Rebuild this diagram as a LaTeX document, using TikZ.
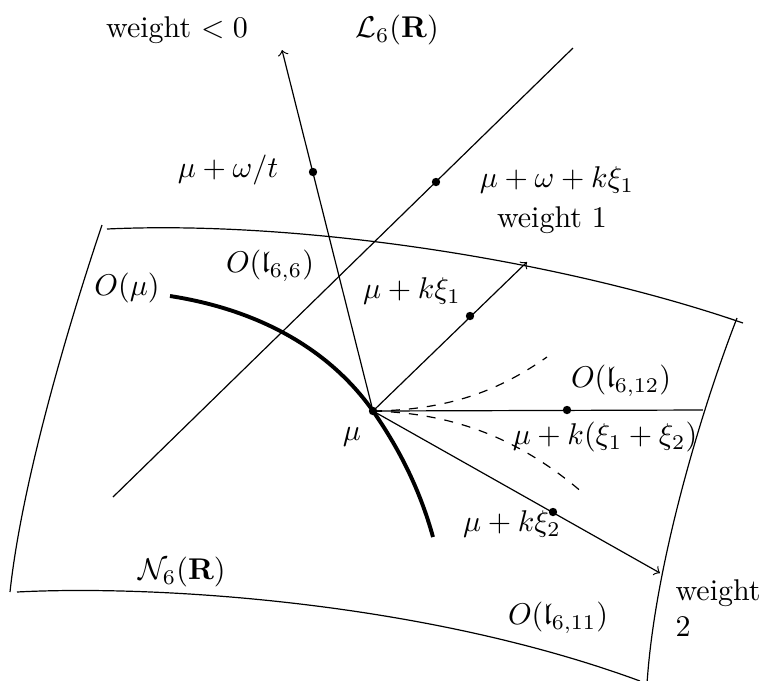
\documentclass[tikz,border=0pt]{standalone}
\usepackage{amssymb}
\begin{document}
\begin{tikzpicture}[x=0.3333pt,y=-0.3333pt,
  thinline/.style={line width=0.4pt},
  orbit/.style={line width=1.3pt},
  dot/.style={circle,fill=black,inner sep=0pt,minimum size=2.8pt},
  lbl/.style={inner sep=0pt},
  dashcurve/.style={dashed,line width=0.4pt}]
\clip (0,0) rectangle (763,680);
% coordinates
\coordinate (mu) at (373,411);
\coordinate (Ostart) at (170,296);
\coordinate (Oend) at (433,537);
\coordinate (Lbot) at (113,497);
\coordinate (Ltop) at (573,48);
\coordinate (tipneg) at (282,50);
\coordinate (tipone) at (527,262);
\coordinate (hend) at (703,410);
\coordinate (tiptwo) at (660,573);
\coordinate (dashA) at (547,357);
\coordinate (dashB) at (583,493);
\coordinate (TL) at (107,229);
\coordinate (TR) at (743,323);
\coordinate (LT) at (102,225);
\coordinate (LB) at (10,592);
\coordinate (BL) at (17,592);
\coordinate (BR) at (640,681);
\coordinate (RT) at (737,318);
\coordinate (RB) at (647,684);
% surface patch
\draw[thinline] (TL) .. controls (300,220) and (560,260) .. (TR);
\draw[thinline] (LT) .. controls (70,320) and (22,480) .. (LB);
\draw[thinline] (BL) .. controls (150,585) and (420,600) .. (BR);
\draw[thinline] (RT) .. controls (705,400) and (655,560) .. (RB);
% orbit
\draw[orbit] (Ostart) .. controls (260,310) and (330,350) .. (mu) .. controls (400,450) and (420,490) .. (Oend);
% line L6
\draw[thinline] (Lbot) -- (Ltop);
% rays
\draw[thinline,->] (mu) -- (tipneg);
\draw[thinline,->] (mu) -- (tipone);
\draw[thinline] (mu) -- (hend);
\draw[thinline,->] (mu) -- (tiptwo);
% dashed
\draw[dashcurve] (mu) .. controls (450,410) and (500,390) .. (dashA);
\draw[dashcurve] (mu) .. controls (440,413) and (510,430) .. (dashB);
% dots
\node[dot] (dmu) at (mu) {};
\node[dot] (dneg) at (313,172) {};
\node[dot] (dL) at (436,182) {};
\node[dot] (done) at (470,316) {};
\node[dot] (dh) at (567,410) {};
\node[dot] (dtwo) at (553,512) {};
% labels
\node[lbl] (t1) at (177,30) {weight $<0$};
\node[lbl] (t2) at (397,30) {$\mathcal{L}_6(\mathbf{R})$};
\node[lbl] (t3) at (228,170) {$\mu+\omega/t$};
\node[lbl] (t4) at (557,180) {$\mu+\omega+k\xi_1$};
\node[lbl] (t5) at (552,220) {weight 1};
\node[lbl] (t6) at (270,266) {$O(\mathfrak{l}_{6,6})$};
\node[lbl] (t7) at (127,288) {$O(\mu)$};
\node[lbl] (t8) at (412,291) {$\mu+k\xi_1$};
\node[lbl] (t9) at (621,381) {$O(\mathfrak{l}_{6,12})$};
\node[lbl] (t10) at (352,437) {$\mu$};
\node[lbl] (t11) at (605,437) {$\mu+k(\xi_1+\xi_2)$};
\node[lbl] (t12) at (512,524) {$\mu+k\xi_2$};
\node[lbl] (t13) at (182,572) {$\mathcal{N}_6(\mathbf{R})$};
\node[lbl] (t14) at (558,618) {$O(\mathfrak{l}_{6,11})$};
\node[lbl,anchor=north west,align=left] (t15) at (675,579) {weight\\2};
\end{tikzpicture}
\end{document}
